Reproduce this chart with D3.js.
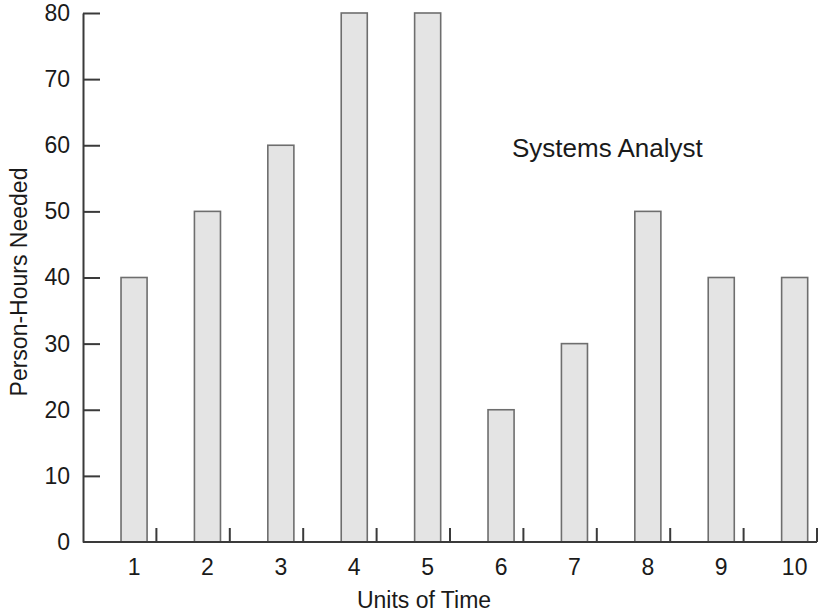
<!DOCTYPE html>
<html>
<head>
<meta charset="utf-8">
<script src="https://cdn.jsdelivr.net/npm/d3@7"></script>
<style>
  html, body { margin: 0; padding: 0; background: #fff; }
  text { font-family: "Liberation Sans", Arial, Helvetica, sans-serif; fill: #1a1a1a; }
</style>
</head>
<body>
<svg id="chart" width="823" height="614"></svg>
<script>
const categories = ["1", "2", "3", "4", "5", "6", "7", "8", "9", "10"];
const values = [40, 50, 60, 80, 80, 20, 30, 50, 40, 40];
const yTicks = [0, 10, 20, 30, 40, 50, 60, 70, 80];
const xTitle = "Units of Time";
const yTitle = "Person-Hours Needed";
const annotation = "Systems Analyst";

const svg = d3.select("#chart");
const mLeft = 83, mRight = 817, mTop = 13, mBottom = 542;

const x = d3.scaleBand().domain(categories).range([mLeft, mRight]).padding(0);
const y = d3.scaleLinear().domain([0, 80]).range([mBottom, mTop]);
const bw = x.bandwidth();

// bars
svg.append("g").selectAll("rect").data(values).join("rect")
  .attr("x", (d, i) => x(categories[i]) + bw * 0.518)
  .attr("y", d => y(d))
  .attr("width", bw * 0.355)
  .attr("height", d => y(0) - y(d))
  .attr("fill", "#e4e4e4")
  .attr("stroke", "#6e6e6e")
  .attr("stroke-width", 1.6);

// y axis
const yAxis = d3.axisLeft(y).tickValues(yTicks).tickSizeInner(-17).tickSizeOuter(0).tickPadding(13);
const gy = svg.append("g").attr("transform", `translate(${mLeft},0)`).call(yAxis);
gy.select(".domain").attr("stroke", "#3a3a3a").attr("stroke-width", 2);
gy.selectAll(".tick line").attr("stroke", "#3a3a3a").attr("stroke-width", 2)
  .filter(d => d === 0).remove();
gy.selectAll(".tick text").attr("font-size", 23).attr("fill", "#1a1a1a")
  .attr("font-family", "Liberation Sans, Arial, sans-serif");

// x axis line
svg.append("line")
  .attr("x1", mLeft).attr("x2", mRight).attr("y1", y(0)).attr("y2", y(0))
  .attr("stroke", "#3a3a3a").attr("stroke-width", 2);

// x ticks at band boundaries
svg.append("g").selectAll("line").data(categories).join("line")
  .attr("x1", d => x(d) + bw).attr("x2", d => x(d) + bw)
  .attr("y1", y(0)).attr("y2", y(0) - 14)
  .attr("stroke", "#3a3a3a").attr("stroke-width", 2);

// x labels centered on bars
svg.append("g").selectAll("text").data(categories).join("text")
  .attr("x", d => x(d) + bw * 0.518 + bw * 0.355 / 2)
  .attr("y", 575)
  .attr("text-anchor", "middle")
  .attr("font-size", 23)
  .text(d => d);

// axis titles
svg.append("text")
  .attr("x", 424).attr("y", 608)
  .attr("text-anchor", "middle")
  .attr("font-size", 23)
  .text(xTitle);

svg.append("text")
  .attr("transform", "translate(27,282) rotate(-90)")
  .attr("text-anchor", "middle")
  .attr("font-size", 23)
  .text(yTitle);

// annotation
svg.append("text")
  .attr("x", 512).attr("y", 157)
  .attr("font-size", 26)
  .text(annotation);
</script>
</body>
</html>
